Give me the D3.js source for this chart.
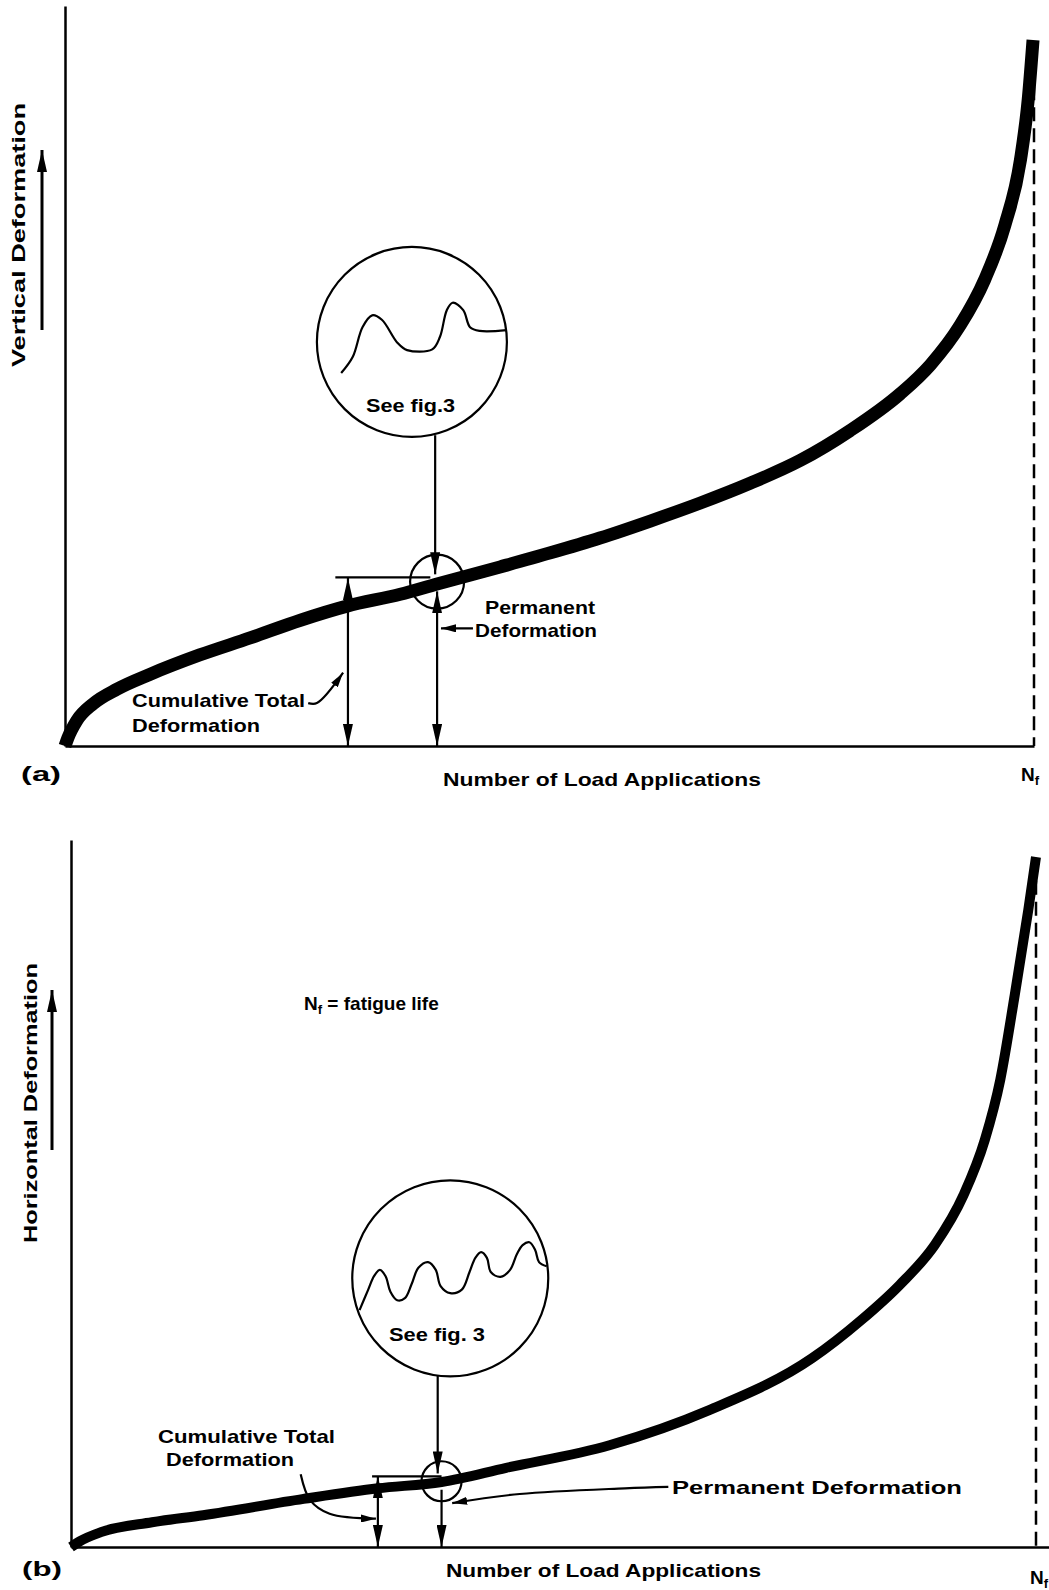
<!DOCTYPE html>
<html>
<head>
<meta charset="utf-8">
<title>Deformation vs Number of Load Applications</title>
<script src="https://cdn.jsdelivr.net/npm/d3@7"></script>
<style>
body { margin: 0; background: #fff; }
svg { display: block; }
.lbl { font-family: "Liberation Sans", "DejaVu Sans", sans-serif; font-weight: bold; font-size: 19px; fill: #000; }
.ax path { stroke: #000; stroke-width: 2.5px; }
.thin { fill: none; stroke: #000; stroke-width: 2.2px; }
</style>
</head>
<body>
<svg width="1049" height="1590"></svg>
<script>
// load applications in % of N_f, deformation in arbitrary units (0-100)
var loadA = [0, 0.3, 1.2, 2.9, 5.4, 8.8, 13.9, 19.1, 24.3, 29.1, 34.6, 38.4, 44.9, 50.1, 55.2, 60.4, 65.5, 70.7, 75.9, 81.0, 86.2, 89.3, 92.4, 94.9, 97.0, 98.6, 99.4, 99.9];
var defA  = [0, 1.1, 3.4, 5.7, 7.7, 9.7, 12.3, 14.6, 17.0, 18.9, 20.5, 21.9, 24.2, 26.1, 28.1, 30.4, 32.8, 35.5, 38.6, 42.6, 47.6, 51.5, 56.9, 63.0, 70.4, 79.2, 87.3, 95.4];

var loadB = [0, 0.9, 3.1, 8.4, 13.7, 24.1, 31.8, 38.4, 45.1, 55.8, 66.2, 76.8, 81.9, 85.9, 89.5, 92.5, 94.7, 96.3, 97.8, 99.2, 100];
var defB  = [0, 0.8, 2.1, 3.5, 4.5, 6.8, 8.3, 9.2, 11.2, 14.4, 19.4, 26.7, 32.1, 37.1, 42.7, 49.8, 57.6, 66.1, 78.1, 90.1, 97.6];

// sketch of the load pulse trace inside the "see fig. 3" bubbles
var waveAx = [28.5, 29.7, 30.7, 31.7, 32.7, 34.3, 35.3, 37.9, 38.7, 39.4, 40.0, 41.1, 41.8, 42.8, 45.6];
var waveAy = [50.4, 52.6, 56.6, 58.2, 57.6, 54.5, 53.5, 53.6, 55.3, 58.9, 59.9, 58.9, 56.6, 56.1, 56.2];
var waveBx = [29.9, 30.8, 31.4, 32.0, 32.6, 33.1, 33.8, 34.6, 35.3, 36.0, 37.0, 37.8, 38.3, 39.3, 40.5, 41.3, 41.9, 42.5, 43.1, 43.5, 44.5, 45.5, 46.2, 46.8, 47.5, 48.1, 48.5, 49.3];
var waveBy = [33.5, 36.4, 38.3, 39.2, 38.3, 36.1, 34.9, 35.2, 37.2, 39.5, 40.3, 39.2, 36.9, 35.9, 36.4, 38.9, 40.9, 41.7, 40.9, 38.9, 38.2, 39.2, 41.4, 42.7, 43.1, 42.0, 40.3, 39.7];

// annotation lines, [load, deformation]
var cumLineA  = [[29.2, 22.7], [29.2, 0]];
var permLineA = [[38.4, 20.9], [38.4, 0]];
var topLineA  = [[27.9, 22.8], [37.7, 22.8]];
var feedA     = [[38.2, 42.0], [38.2, 23.2]];
var leadCumA  = [[25.1, 5.8], [26.0, 5.8], [28.7, 9.9]];
var leadPermA = [[42.1, 15.9], [38.8, 15.9]];
var bubbleA = [35.8, 54.6];
var ringA   = [38.4, 22.2];

var cumLineB  = [[31.8, 10.0], [31.8, 0]];
var permLineB = [[38.4, 8.1], [38.4, 0]];
var topLineB  = [[31.2, 10.0], [38.4, 10.0]];
var feedB     = [[38.0, 24.2], [38.0, 10.4]];
var leadCumB  = [[23.8, 10.3], [24.8, 6.6], [26.8, 4.7], [31.6, 4.0]];
var leadPermB = [[61.9, 8.5], [57.4, 8.3], [46.5, 7.5], [39.5, 6.2]];
var bubbleB = [39.3, 38.0];
var ringB   = [38.4, 9.3];

var svg = d3.select("svg");
var defs = svg.append("defs");
function marker(id, len, wid) {
  defs.append("marker").attr("id", id).attr("viewBox", "0 0 " + len + " " + wid)
    .attr("refX", len).attr("refY", wid / 2).attr("markerUnits", "userSpaceOnUse")
    .attr("markerWidth", len).attr("markerHeight", wid).attr("orient", "auto-start-reverse")
    .append("path").attr("d", "M0,0L" + len + "," + (wid / 2) + "L0," + wid + "Z").attr("fill", "#000");
}
marker("ah", 22, 10);
marker("ahs", 15, 8);

function panel(o) {
  var x = d3.scaleLinear().domain([0, 100]).range(o.xr);
  var y = d3.scaleLinear().domain([0, 100]).range(o.yr);
  var g = svg.append("g");
  var seg = d3.line().x(function(d) { return x(d[0]); }).y(function(d) { return y(d[1]); });
  var smooth = d3.line().curve(d3.curveCatmullRom.alpha(0.5)).x(function(d) { return x(d[0]); }).y(function(d) { return y(d[1]); });
  var mono = d3.line().curve(d3.curveMonotoneX).x(function(d) { return x(d[0]); }).y(function(d) { return y(d[1]); });

  var xAxisScale = x.copy().domain([0, o.xEnd]).range([x(0), x(o.xEnd)]);
  g.append("g").attr("class", "ax").attr("transform", "translate(0," + y(0) + ")")
    .call(d3.axisBottom(xAxisScale).tickValues([]).tickSizeOuter(0));
  g.append("g").attr("class", "ax").attr("transform", "translate(" + x(0) + ",0)")
    .call(d3.axisLeft(y).tickValues([]).tickSizeOuter(0));
  g.append("path").attr("d", seg([[100, o.dashTop], [100, 0]]))
    .attr("stroke", "#000").attr("stroke-width", 2.5).attr("stroke-dasharray", "14,7");

  var pts = o.load.map(function(v, i) { return [v, o.def[i]]; });
  g.append("path").attr("d", mono(pts)).attr("fill", "none").attr("stroke", "#000")
    .attr("stroke-width", o.curveW).attr("stroke-linejoin", "round");

  // bubble with pulse trace
  g.append("circle").attr("class", "thin").attr("cx", x(o.bubble[0])).attr("cy", y(o.bubble[1])).attr("r", o.bubbleR);
  var wave = o.wx.map(function(v, i) { return [v, o.wy[i]]; });
  g.append("path").attr("class", "thin").attr("d", smooth(wave)).attr("stroke-width", 2.6);
  g.append("circle").attr("class", "thin").attr("cx", x(o.ring[0])).attr("cy", y(o.ring[1])).attr("r", o.ringR);

  g.append("path").attr("class", "thin").attr("d", seg(o.feed)).attr("marker-end", "url(#ah)");
  g.append("path").attr("class", "thin").attr("d", seg(o.top));
  g.append("path").attr("class", "thin").attr("d", seg(o.cum))
    .attr("marker-start", "url(#ah)").attr("marker-end", "url(#ah)");
  var pl = g.append("path").attr("class", "thin").attr("d", seg(o.perm)).attr("marker-end", "url(#ah)");
  if (o.permBoth) pl.attr("marker-start", "url(#ah)");
  g.append("path").attr("class", "thin").attr("d", (o.leadCum.length > 2 ? smooth : seg)(o.leadCum)).attr("marker-end", "url(#ahs)");
  g.append("path").attr("class", "thin").attr("d", (o.leadPerm.length > 2 ? smooth : seg)(o.leadPerm)).attr("marker-end", "url(#ahs)");

  // vertical axis title with arrow
  g.append("text").attr("class", "lbl").attr("transform", "translate(" + o.yTitle[0] + "," + o.yTitle[1] + ") rotate(-90)")
    .attr("textLength", o.yTitle[2]).attr("lengthAdjust", "spacingAndGlyphs").text(o.yTitleText);
  g.append("path").attr("d", "M" + o.yArrow[0] + "," + o.yArrow[1] + "V" + o.yArrow[2])
    .attr("stroke", "#000").attr("stroke-width", 3).attr("marker-end", "url(#ah)");
  return g;
}

function label(g, txt, px, py, w, size) {
  var t = g.append("text").attr("class", "lbl").attr("x", px).attr("y", py).text(txt);
  if (size) t.style("font-size", size + "px");
  if (w) t.attr("textLength", w).attr("lengthAdjust", "spacingAndGlyphs");
  return t;
}
function nf(g, px, py) {
  var t = g.append("text").attr("class", "lbl").attr("x", px).attr("y", py).text("N");
  t.append("tspan").attr("dy", 4).style("font-size", "13px").text("f");
  return t;
}

var gA = panel({
  xr: [65, 1034], yr: [746, 6], xEnd: 100, dashTop: 92, curveW: 13,
  load: loadA, def: defA, wx: waveAx, wy: waveAy,
  bubble: bubbleA, bubbleR: 95, ring: ringA, ringR: 27,
  feed: feedA, top: topLineA, cum: cumLineA, perm: permLineA, permBoth: true,
  leadCum: leadCumA, leadPerm: leadPermA,
  yTitle: [25, 367, 264], yTitleText: "Vertical  Deformation", yArrow: [42, 330, 150]
});
label(gA, "See fig.3", 366, 412, 89, 18);
label(gA, "Permanent", 485, 614, 110);
label(gA, "Deformation", 475, 637, 122);
label(gA, "Cumulative  Total", 132, 707, 173);
label(gA, "Deformation", 132, 732, 128);
label(gA, "(a)", 21, 781, 40, 20);
label(gA, "Number  of  Load  Applications", 443, 786, 318);
nf(gA, 1021, 781);

var gB = panel({
  xr: [71, 1036], yr: [1547, 840], xEnd: 101.6, dashTop: 97.2, curveW: 10,
  load: loadB, def: defB, wx: waveBx, wy: waveBy,
  bubble: bubbleB, bubbleR: 98, ring: ringB, ringR: 20,
  feed: feedB, top: topLineB, cum: cumLineB, perm: permLineB, permBoth: false,
  leadCum: leadCumB, leadPerm: leadPermB,
  yTitle: [37, 1243, 280], yTitleText: "Horizontal  Deformation", yArrow: [52, 1150, 990]
});
var nfl = nf(gB, 304, 1010);
nfl.append("tspan").attr("dy", -4).text(" = fatigue life");
label(gB, "See fig. 3", 389, 1341, 96, 18);
label(gB, "Cumulative  Total", 158, 1443, 177);
label(gB, "Deformation", 166, 1466, 128);
label(gB, "Permanent   Deformation", 672, 1494, 290);
label(gB, "(b)", 22, 1576, 40, 20);
label(gB, "Number  of  Load  Applications", 446, 1577, 315);
nf(gB, 1030, 1584);
</script>
</body>
</html>
